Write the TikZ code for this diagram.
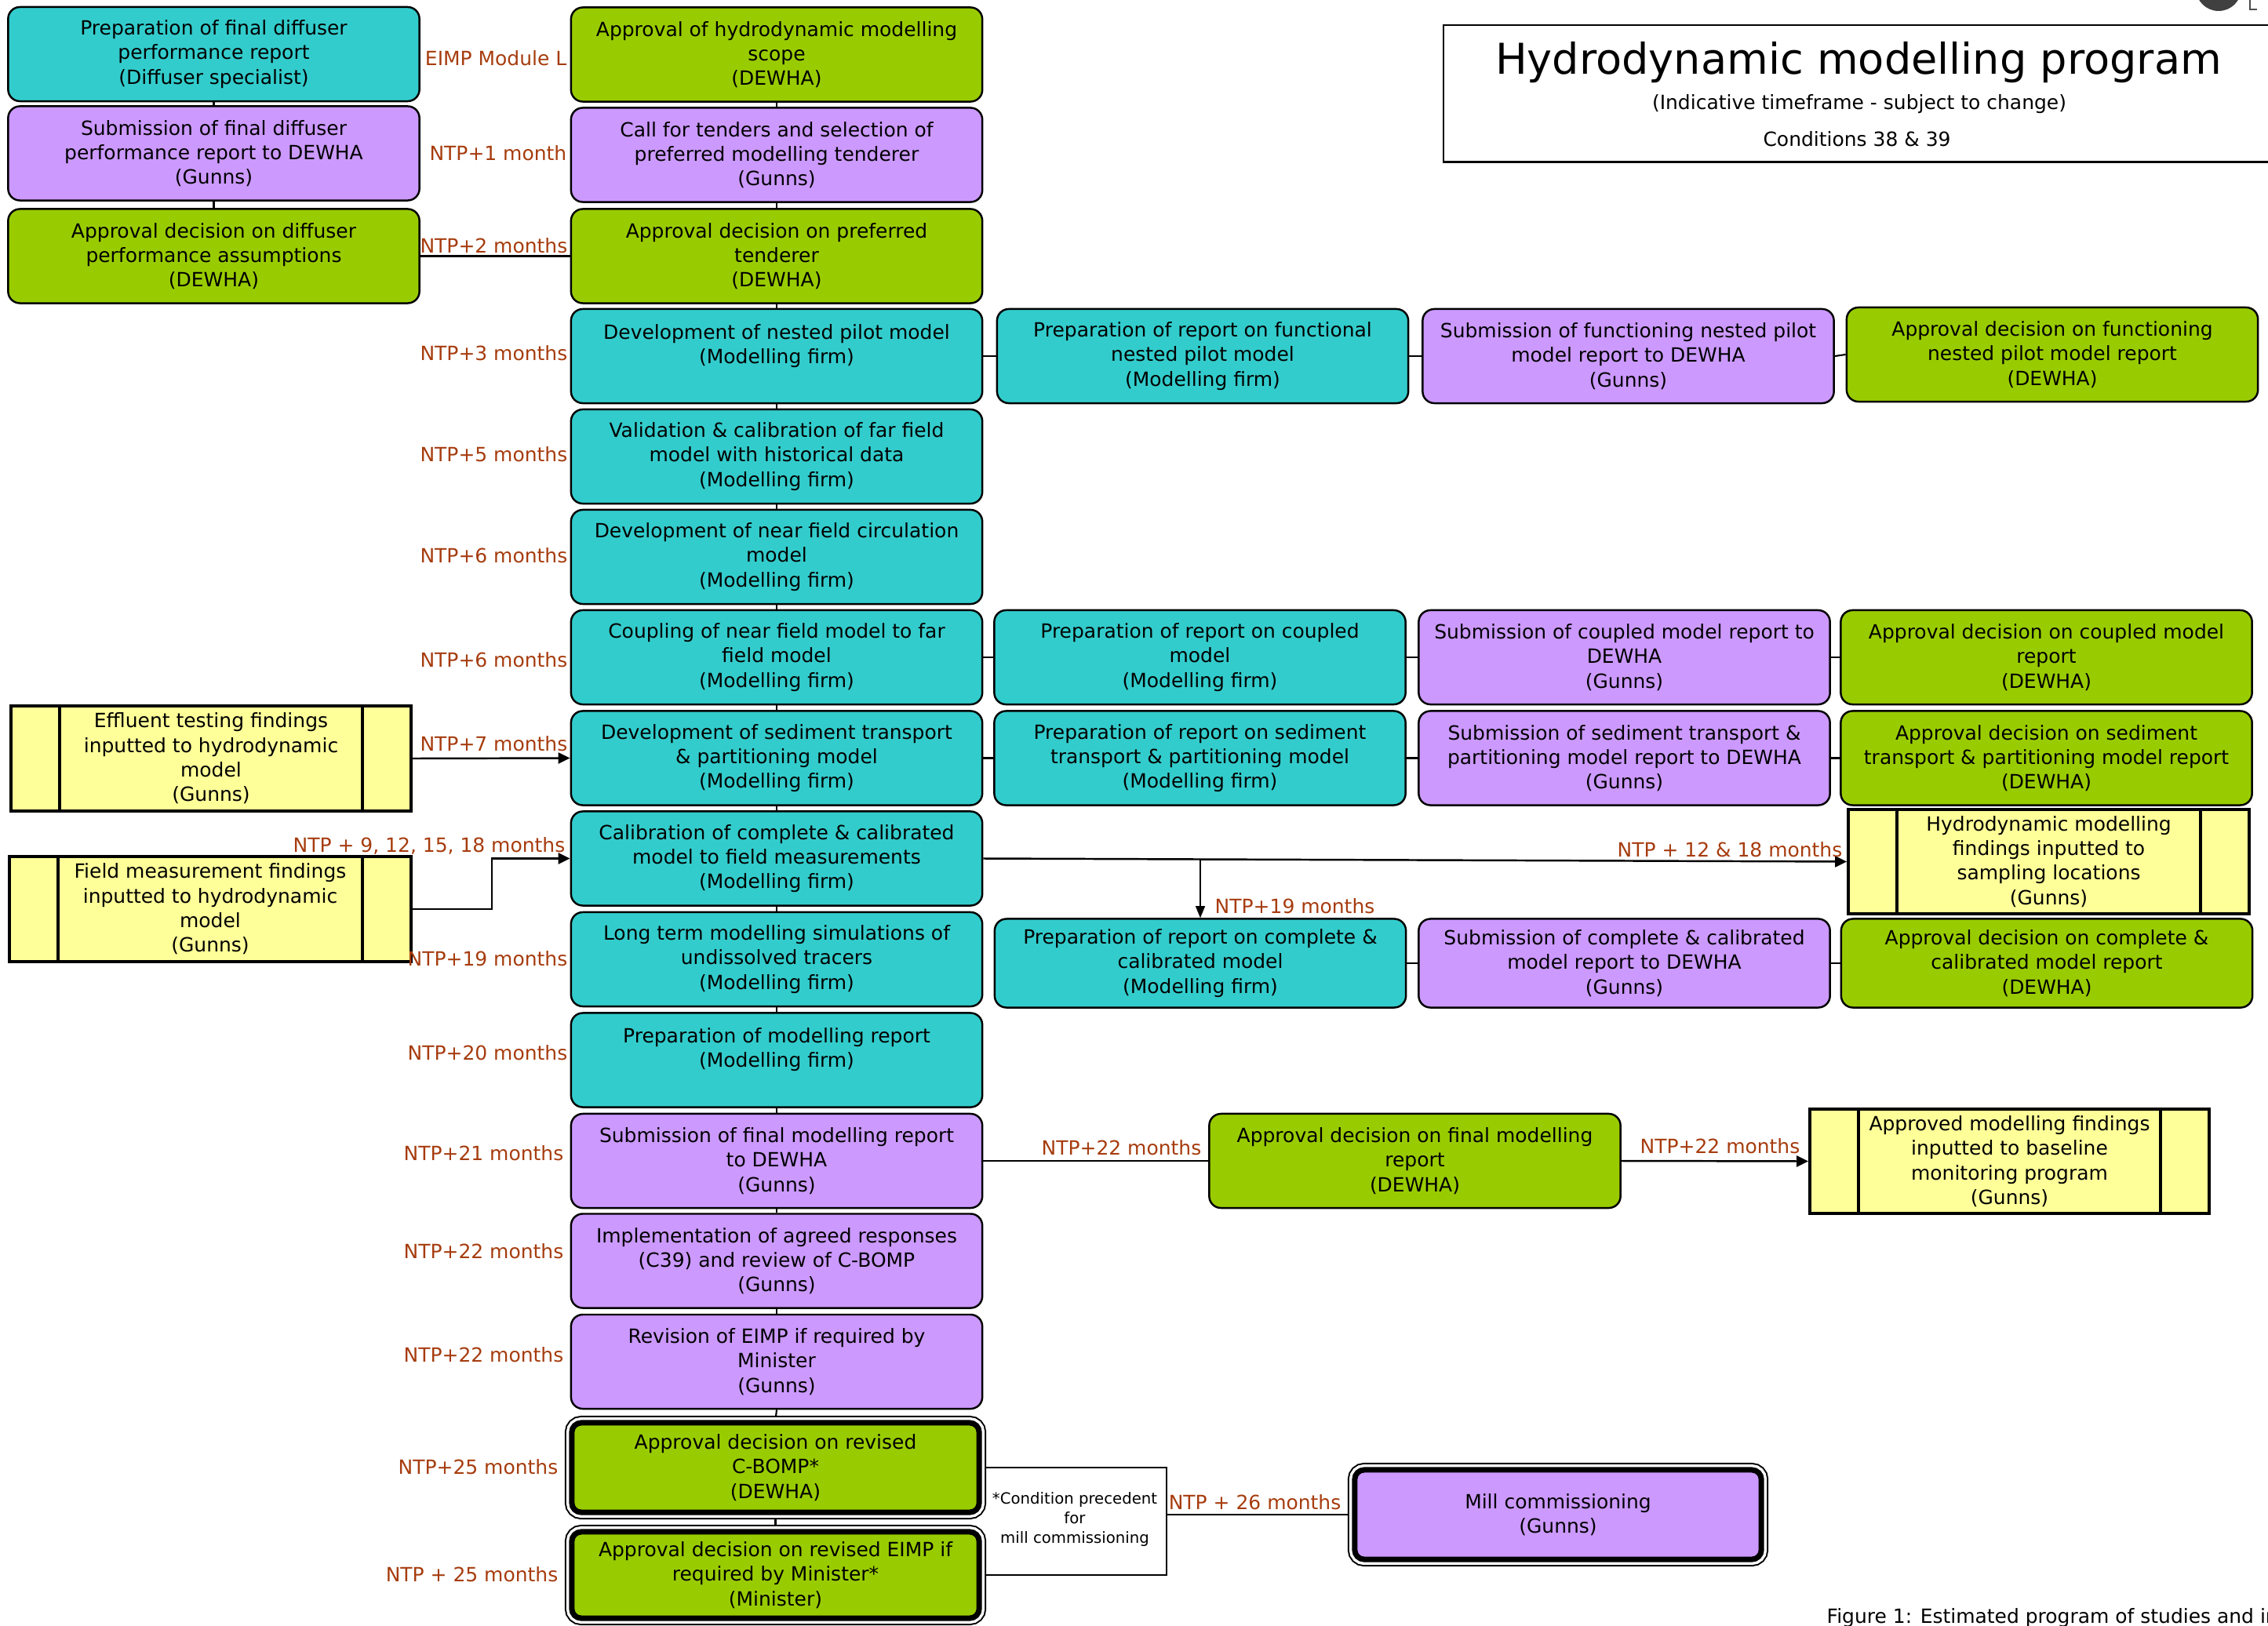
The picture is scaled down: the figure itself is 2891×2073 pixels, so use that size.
\documentclass[tikz,border=0pt]{standalone}
\usepackage{fontspec}
\setmainfont{DejaVu Sans}
\usetikzlibrary{arrows.meta,backgrounds}
\definecolor{cy}{RGB}{51,204,204}
\definecolor{pu}{RGB}{204,153,255}
\definecolor{gr}{RGB}{153,204,0}
\definecolor{ye}{RGB}{255,255,153}
\definecolor{lab}{RGB}{166,60,14}
\newcommand\bodyfnt{\fontsize{7.1pt}{8.9pt}\selectfont}
\newcommand\notefnt{\fontsize{5.6pt}{7.2pt}\selectfont}
\begin{document}
\begin{tikzpicture}[x=0.01cm,y=-0.01cm,
  box/.style={draw, line width=0.7pt, rounded corners=0.15cm, align=center, inner sep=0pt, font=\bodyfnt, minimum width=5.24cm, minimum height=1.2cm},
  cybox/.style={box, fill=cy}, pubox/.style={box, fill=pu}, grbox/.style={box, fill=gr},
  dbox/.style={draw, line width=0.07cm, rounded corners=0.12cm, align=center, inner sep=0pt, font=\bodyfnt,
     preaction={draw, line width=0.18cm}, preaction={draw=white, line width=0.14cm}},
  ybox/.style={draw, line width=1pt, fill=ye, align=center, inner sep=0pt, font=\bodyfnt, minimum width=5.1cm, minimum height=1.34cm,
     path picture={\draw[line width=1pt] ([xshift=0.62cm]path picture bounding box.north west) -- ([xshift=0.62cm]path picture bounding box.south west);
                   \draw[line width=1pt] ([xshift=-0.62cm]path picture bounding box.north east) -- ([xshift=-0.62cm]path picture bounding box.south east);}},
  lbl/.style={text=lab, font=\bodyfnt, inner sep=0pt},
  conn/.style={line width=0.6pt},
  arr/.style={line width=0.7pt, -{Triangle[length=0.15cm,width=0.14cm]}},
  tarr/.style={line width=0.35pt, -{Triangle[length=0.15cm,width=0.12cm]}},
]
\useasboundingbox (0,0) rectangle (2891,2073);
\clip (0,0) rectangle (2891,2073);

% left column
\node[cybox] (A1) at (272.5,69) {Preparation of final diffuser\\performance report\\(Diffuser specialist)};
\node[pubox] (A2) at (272.5,195.5) {Submission of final diffuser\\performance report to DEWHA\\(Gunns)};
\node[grbox] (A3) at (272.5,326.5) {Approval decision on diffuser\\performance assumptions\\(DEWHA)};

% main column
\node[grbox] (M1) at (990,69.5) {Approval of hydrodynamic modelling\\scope\\(DEWHA)};
\node[pubox] (M2) at (990,197.5) {Call for tenders and selection of\\preferred modelling tenderer\\(Gunns)};
\node[grbox] (M3) at (990,326.5) {Approval decision on preferred\\tenderer\\(DEWHA)};
\node[cybox] (M4) at (990,454) {Development of nested pilot model\\(Modelling firm)\\\phantom{x}};
\node[cybox] (M5) at (990,582) {Validation \& calibration of far field\\model with historical data\\(Modelling firm)};
\node[cybox] (M6) at (990,710) {Development of near field circulation\\model\\(Modelling firm)};
\node[cybox] (M7) at (990,838) {Coupling of near field model to far\\field model\\(Modelling firm)};
\node[cybox] (M8) at (990,966.5) {Development of sediment transport\\\& partitioning model\\(Modelling firm)};
\node[cybox] (M9) at (990,1094.5) {Calibration of complete \& calibrated\\model to field measurements\\(Modelling firm)};
\node[cybox] (M10) at (990,1223) {Long term modelling simulations of\\undissolved tracers\\(Modelling firm)};
\node[cybox] (M11) at (990,1351.5) {Preparation of modelling report\\(Modelling firm)\\\phantom{x}};
\node[pubox] (M12) at (990,1480) {Submission of final modelling report\\to DEWHA\\(Gunns)};
\node[pubox] (M13) at (990,1607.5) {Implementation of agreed responses\\(C39) and review of C-BOMP\\(Gunns)};
\node[pubox] (M14) at (990,1736) {Revision of EIMP if required by\\Minister\\(Gunns)};
\node[dbox, fill=gr, minimum width=5.19cm, minimum height=1.14cm] (M15) at (988.5,1871) {Approval decision on revised\\C-BOMP*\\(DEWHA)};
\node[dbox, fill=gr, minimum width=5.19cm, minimum height=1.10cm] (M16) at (988.5,2008) {Approval decision on revised EIMP if\\required by Minister*\\(Minister)};

% right rows
\node[cybox] (R4a) at (1533,454) {Preparation of report on functional\\nested pilot model\\(Modelling firm)};
\node[pubox] (R4b) at (2075.5,454) {Submission of functioning nested pilot\\model report to DEWHA\\(Gunns)};
\node[grbox] (R4c) at (2616,452) {Approval decision on functioning\\nested pilot model report\\(DEWHA)};
\node[cybox] (R7a) at (1529.5,838) {Preparation of report on coupled\\model\\(Modelling firm)};
\node[pubox] (R7b) at (2070.5,838) {Submission of coupled model report to\\DEWHA\\(Gunns)};
\node[grbox] (R7c) at (2608.5,838) {Approval decision on coupled model\\report\\(DEWHA)};
\node[cybox] (R8a) at (1529.5,966.5) {Preparation of report on sediment\\transport \& partitioning model\\(Modelling firm)};
\node[pubox] (R8b) at (2070.5,966.5) {Submission of sediment transport \&\\partitioning model report to DEWHA\\(Gunns)};
\node[grbox] (R8c) at (2608.5,966.5) {Approval decision on sediment\\transport \& partitioning model report\\(DEWHA)};
\node[cybox, minimum height=1.13cm] (R10a) at (1530,1228) {Preparation of report on complete \&\\calibrated model\\(Modelling firm)};
\node[pubox, minimum height=1.13cm] (R10b) at (2070.5,1228) {Submission of complete \& calibrated\\model report to DEWHA\\(Gunns)};
\node[grbox, minimum height=1.13cm] (R10c) at (2609,1228) {Approval decision on complete \&\\calibrated model report\\(DEWHA)};

\node[grbox] (G) at (1803.5,1480) {Approval decision on final modelling\\report\\(DEWHA)};
\node[dbox, fill=pu, minimum width=5.18cm, minimum height=1.14cm] (Mill) at (1986,1931) {Mill commissioning\\(Gunns)};

% yellow boxes
\node[ybox] (Y1) at (269,967) {Effluent testing findings\\inputted to hydrodynamic\\model\\(Gunns)};
\node[ybox, minimum width=5.12cm] (Y2) at (268,1159) {Field measurement findings\\inputted to hydrodynamic\\model\\(Gunns)};
\node[ybox, minimum width=5.11cm, minimum height=1.33cm] (Y3) at (2611.5,1098.5) {Hydrodynamic modelling\\findings inputted to\\sampling locations\\(Gunns)};
\node[ybox, minimum width=5.09cm, minimum height=1.33cm] (Y4) at (2561.5,1480.5) {Approved modelling findings\\inputted to baseline\\monitoring program\\(Gunns)};

% note
\node[font=\notefnt, align=center, inner sep=0pt] (note) at (1370,1937) {*Condition precedent\\for\\mill commissioning};
\coordinate (nr) at (1487,1931);

% labels
\node[lbl, anchor=east] (l1) at (723,74) {EIMP Module L};
\node[lbl, anchor=east] (l2) at (723,195) {NTP+1 month};
\node[lbl, anchor=east] (l3) at (724,313) {NTP+2 months};
\node[lbl, anchor=east] (l4) at (724,450) {NTP+3 months};
\node[lbl, anchor=east] (l5) at (724,579) {NTP+5 months};
\node[lbl, anchor=east] (l6) at (724,708) {NTP+6 months};
\node[lbl, anchor=east] (l7) at (724,841) {NTP+6 months};
\node[lbl, anchor=east] (l8) at (724,948) {NTP+7 months};
\node[lbl, anchor=east] (l9) at (721,1078) {NTP + 9, 12, 15, 18 months};
\node[lbl, anchor=east] (l10) at (724,1222) {NTP+19 months};
\node[lbl, anchor=east] (l11) at (724,1342) {NTP+20 months};
\node[lbl, anchor=east] (l12) at (719,1470) {NTP+21 months};
\node[lbl, anchor=east] (l13) at (719,1595) {NTP+22 months};
\node[lbl, anchor=east] (l14) at (719,1727) {NTP+22 months};
\node[lbl, anchor=east] (l15) at (712,1870) {NTP+25 months};
\node[lbl, anchor=east] (l16) at (712,2007) {NTP + 25 months};
\node[lbl, anchor=east] (l17) at (2349,1083) {NTP + 12 \& 18 months};
\node[lbl, anchor=west] (l18) at (1548,1155) {NTP+19 months};
\node[lbl, anchor=east] (l19) at (1532,1463) {NTP+22 months};
\node[lbl, anchor=east] (l20) at (2295,1461) {NTP+22 months};
\node[lbl, anchor=east] (l21) at (1710,1915) {NTP + 26 months};

% title
\node[draw, line width=0.7pt, minimum width=11.5cm, minimum height=1.74cm, anchor=north west, inner sep=0pt] (tbox) at (1839,31) {};
\node[font=\fontsize{15.4pt}{18pt}\selectfont, inner sep=0pt] (title) at (2369,80) {Hydrodynamic modelling program};
\node[font=\bodyfnt, inner sep=0pt] (sub) at (2370,133) {(Indicative timeframe - subject to change)};
\node[font=\bodyfnt, inner sep=0pt] (cond) at (2367,177) {Conditions 38 \& 39};
\node[font=\bodyfnt, anchor=west, inner sep=0pt] (cap) at (2328,2063) {Figure 1: Estimated program of studies and in};
\fill[black!75] (2828,-15) circle (0.29cm);
\draw[black!70, line width=0.4pt] (2868,-5) -- (2868,12) -- (2877,12);

\begin{pgfonlayer}{background}
\draw[conn] (A1.south) -- (A2.north);
\draw[conn] (A2.south) -- (A3.north);
\foreach \a/\b in {M1/M2,M2/M3,M3/M4,M4/M5,M5/M6,M6/M7,M7/M8,M8/M9,M9/M10,M10/M11,M11/M12,M12/M13,M13/M14,M14/M15,M15/M16}
  \draw[conn] (\a.south) -- (\b.north);
\draw[conn] (A3.east) -- (M3.west);
\foreach \a/\b in {M4/R4a,R4a/R4b,R4b/R4c,M7/R7a,R7a/R7b,R7b/R7c,M8/R8a,R8a/R8b,R8b/R8c,R10a/R10b,R10b/R10c}
  \draw[conn] (\a.east) -- (\b.west);
\draw[arr] (Y1.east) -- (M8.west);
\draw[arr] (Y2.east) -- ++(101,0) |- (M9.west);
\draw[arr] (M9.east) -- (Y3.west);
\coordinate (br) at (R10a.north |- M9.east);
\draw[tarr] (br) -- (R10a.north);
\draw[conn] (M12.east) -- (G.west);
\draw[arr] (G.east) -- (Y4.west);
\draw[conn] (M15.east) -- (M15.east -| nr) -- (M16.east -| nr) -- (M16.east);
\draw[conn] (nr) -- (Mill.west);
\end{pgfonlayer}
\end{tikzpicture}
\end{document}
